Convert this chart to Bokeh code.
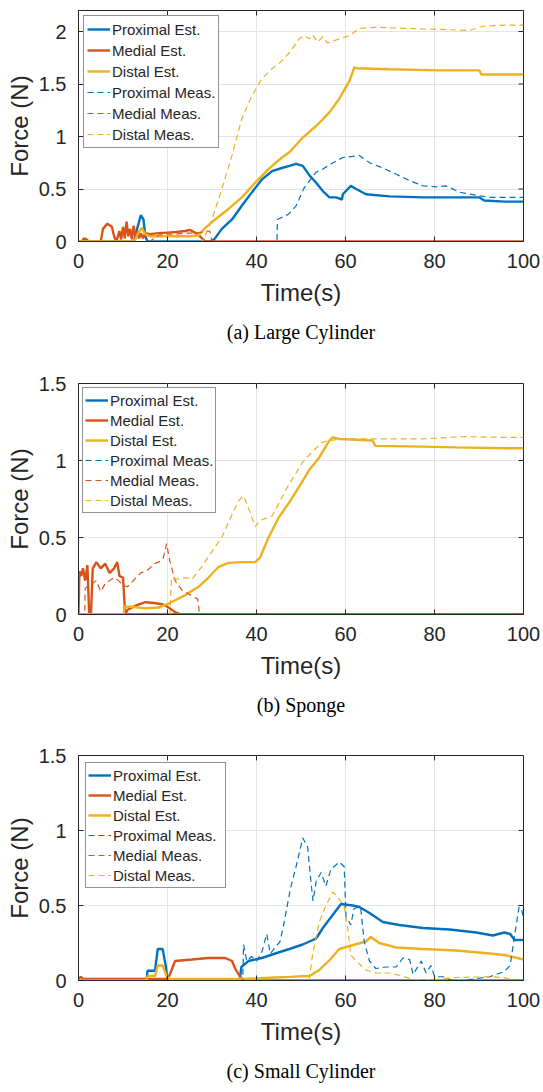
from bokeh.plotting import figure
from bokeh.layouts import column
from bokeh.models import Range1d, FixedTicker, Legend, LegendItem, Title
from bokeh.embed import file_html
from bokeh.resources import INLINE

# ---------------- data ----------------
labels = ["Proximal Est.", "Medial Est.", "Distal Est.",
          "Proximal Meas.", "Medial Meas.", "Distal Meas."]
x_ticks = [0, 20, 40, 60, 80, 100]
a_y_ticks = [0, 0.5, 1, 1.5, 2]
a_y_labels = ["0", "0.5", "1", "1.5", "2"]
bc_y_ticks = [0, 0.5, 1, 1.5]
bc_y_labels = ["0", "0.5", "1", "1.5"]
captions = ["(a) Large Cylinder", "(b) Sponge", "(c) Small Cylinder"]

# (a) Large Cylinder
a_t_prox_est = [0, 12.5, 13.1, 14.0, 14.6, 15.0, 15.5, 29.5, 30.5, 32.2, 34.5, 36.7, 39.0, 41.2, 43.5, 45.7, 47.4, 48.9, 50.4, 51.9,
                53.4, 54.9, 56.4, 57.9, 59.2, 59.4, 61.2, 62.0, 64.6, 69.9, 77.4, 84.1, 90.1, 91.2, 95.7, 100]
a_f_prox_est = [0, 0, 0.11, 0.25, 0.21, 0.05, 0, 0, 0.02, 0.12, 0.21, 0.34, 0.47, 0.59, 0.67, 0.70, 0.72, 0.74, 0.72, 0.63,
                0.56, 0.48, 0.42, 0.42, 0.40, 0.45, 0.53, 0.51, 0.45, 0.43, 0.42, 0.42, 0.42, 0.39, 0.38, 0.38]
a_t_med_est = [0, 0.8, 1.2, 1.8, 2.3, 5.0, 5.5, 6.5, 7.5, 8.0, 8.5, 9.2, 9.6, 10.0, 10.4, 10.8, 11.2, 11.6, 12.0, 12.4,
               12.8, 13.2, 13.6, 14.0, 14.5, 15.0, 16, 18, 20, 22, 24, 25, 26, 27, 28, 28.5, 100]
a_f_med_est = [0, 0, 0.03, 0.02, 0, 0, 0.12, 0.17, 0.14, 0.05, 0, 0.10, 0.02, 0.14, 0.03, 0.19, 0.05, 0.12, 0.02, 0.15,
               0.04, 0.10, 0.03, 0.08, 0.03, 0.08, 0.07, 0.08, 0.085, 0.09, 0.10, 0.11, 0.09, 0.06, 0.02, 0, 0]
a_t_dist_est = [0, 12.5, 13.2, 14.2, 15.0, 16.0, 20, 25, 27, 28.5, 30.7, 33.7, 36.7, 39.7, 42.7, 45.7, 47.4, 50.4, 53.4, 56.4,
                58.6, 60.9, 62.0, 62.4, 69.9, 81.1, 90.1, 90.5, 95.7, 100]
a_f_dist_est = [0, 0, 0.06, 0.13, 0.07, 0.05, 0.05, 0.05, 0.06, 0.13, 0.21, 0.31, 0.42, 0.56, 0.69, 0.80, 0.85, 0.99, 1.10, 1.23,
                1.36, 1.53, 1.66, 1.65, 1.64, 1.63, 1.63, 1.59, 1.59, 1.59]
a_t_prox_meas = [0, 44.6, 44.7, 47.2, 48.9, 50.7, 53.4, 54.9, 57.2, 59.4, 61.6, 63.1, 65.4, 68.4, 71.4, 74.4, 77.4, 80.4, 82.6, 85.6,
                 89.4, 92.4, 95.7, 100]
a_f_prox_meas = [0, 0, 0.21, 0.26, 0.34, 0.51, 0.66, 0.69, 0.75, 0.80, 0.81, 0.82, 0.75, 0.70, 0.64, 0.58, 0.53, 0.52, 0.53, 0.47,
                 0.44, 0.42, 0.42, 0.42]
a_t_med_meas = [0, 16, 18, 20, 22, 24, 26, 28, 29.5, 30, 100]
a_f_med_meas = [0, 0, 0.06, 0.07, 0.07, 0.08, 0.08, 0.09, 0.10, 0, 0]
a_t_dist_meas = [0, 27.5, 28.1, 30.0, 32.2, 34.5, 36.7, 39.0, 41.2, 43.5, 45.7, 47.4, 49.6, 50.7, 51.9, 52.6, 53.7, 54.9, 56.0, 58.6,
                 60.9, 63.1, 66.9, 73.6, 81.1, 87.9, 90.9, 95.7, 100]
a_f_dist_meas = [0, 0, 0.02, 0.21, 0.50, 0.82, 1.17, 1.39, 1.55, 1.645, 1.72, 1.80, 1.93, 1.96, 1.93, 1.97, 1.90, 1.95, 1.89, 1.93,
                 1.96, 2.03, 2.04, 2.03, 2.02, 2.01, 2.05, 2.06, 2.06]

# (b) Sponge
b_t_prox_est = [0, 100]
b_f_prox_est = [0, 0]
b_t_med_est = [0, 0.2, 0.6, 1.0, 1.5, 2.0, 2.4, 2.8, 3.2, 4.0, 5.0, 6.0, 7.0, 8.0, 8.7, 9.2, 10.0, 10.5, 11.0, 13.0,
               15.0, 17.0, 19.0, 20.0, 21.0, 22.0, 23.0, 100]
b_f_med_est = [0, 0.28, 0.25, 0.30, 0.22, 0.32, 0, 0, 0.30, 0.34, 0.30, 0.33, 0.27, 0.30, 0.34, 0.25, 0.24, 0, 0.03, 0.06,
               0.08, 0.075, 0.065, 0.05, 0.03, 0.01, 0, 0]
b_t_dist_est = [0, 10.2, 10.3, 12, 15, 18, 20.6, 24, 27, 29.2, 31.5, 33.7, 36.7, 39.7, 40.8, 42.7, 45, 47.4, 49.6, 51.9,
                54.1, 56.4, 57.1, 58.6, 66.1, 66.7, 77.4, 84.9, 95.7, 100]
b_f_dist_est = [0, 0, 0.05, 0.05, 0.04, 0.045, 0.076, 0.126, 0.18, 0.24, 0.31, 0.335, 0.34, 0.34, 0.37, 0.50, 0.63, 0.73, 0.83, 0.94,
                1.02, 1.13, 1.15, 1.14, 1.13, 1.095, 1.09, 1.085, 1.08, 1.08]
b_t_prox_meas = [0, 100]
b_f_prox_meas = [0, 0]
b_t_med_meas = [0, 1.4, 1.5, 3, 4, 5, 6, 7, 8, 9, 10, 11, 12, 13, 14, 15, 16, 17, 18, 19,
                19.8, 20.5, 21.7, 23.2, 25.5, 26.8, 27.2, 100]
b_f_med_meas = [0, 0, 0.17, 0.20, 0.22, 0.15, 0.20, 0.22, 0.24, 0.22, 0.19, 0.18, 0.21, 0.24, 0.27, 0.28, 0.30, 0.33, 0.34, 0.36,
                0.46, 0.35, 0.22, 0.16, 0.12, 0.10, 0, 0]
b_t_dist_meas = [0, 20.5, 20.9, 22, 24, 25.5, 27.7, 30, 32.2, 34.5, 36, 37.1, 38.2, 39.7, 40.8, 43.5, 45.7, 47.2, 50.4, 52.6,
                 54.9, 56.4, 59.4, 66.1, 77.4, 86.4, 95.7, 100]
b_f_dist_meas = [0, 0, 0.24, 0.23, 0.24, 0.23, 0.31, 0.41, 0.50, 0.65, 0.74, 0.77, 0.69, 0.57, 0.61, 0.64, 0.76, 0.84, 0.99, 1.06,
                 1.12, 1.13, 1.14, 1.14, 1.14, 1.155, 1.15, 1.15]

# (c) Small Cylinder
c_t_prox_est = [0, 15.3, 15.5, 17.2, 17.8, 18.9, 19.6, 20.0, 36.2, 36.6, 38.2, 41.2, 44.2, 47.4, 50.4, 53.4, 54.9, 57.2, 59.0, 61.6,
                63.1, 65.4, 68.4, 72.1, 77.4, 83.4, 89.4, 93.1, 95.7, 97.0, 98.0, 100]
c_f_prox_est = [0, 0, 0.065, 0.065, 0.21, 0.21, 0.10, 0, 0, 0.09, 0.13, 0.15, 0.18, 0.21, 0.24, 0.28, 0.35, 0.44, 0.51, 0.50,
                0.49, 0.45, 0.39, 0.37, 0.35, 0.34, 0.32, 0.30, 0.32, 0.31, 0.27, 0.27]
c_t_med_est = [0, 0.5, 1.0, 20.0, 20.6, 21.7, 25.5, 29.2, 33.0, 34.5, 35.2, 36.3, 37.0, 100]
c_f_med_est = [0.01, 0.025, 0.01, 0.01, 0.045, 0.13, 0.14, 0.15, 0.15, 0.13, 0.08, 0.025, 0, 0]
c_t_dist_est = [0, 15.3, 15.5, 17.2, 17.8, 18.9, 19.8, 20.5, 37.0, 44.2, 47.4, 51.9, 54.1, 56.4, 58.6, 60.9, 64.6, 65.7, 67.6, 71.4,
                77.4, 84.9, 92.4, 95.7, 100]
c_f_dist_est = [0, 0, 0.03, 0.03, 0.10, 0.10, 0.03, 0.01, 0.01, 0.02, 0.024, 0.03, 0.07, 0.135, 0.21, 0.23, 0.26, 0.29, 0.25, 0.22,
                0.21, 0.20, 0.18, 0.17, 0.14]
c_t_prox_meas = [0, 36.9, 37.1, 37.8, 38.9, 40.1, 41.2, 42.3, 43.1, 44.2, 45.3, 46.1, 46.8, 47.6, 48.9, 50.4, 51.5, 52.2, 52.7, 53.4,
                 54.5, 55.6, 56.7, 58.6, 59.7, 60.1, 61.2, 61.9, 63.4, 64.2, 65.4, 66.8, 69.1, 71.4, 72.9, 74.4, 75.2, 77.0, 78.1, 79.2,
                 80.0, 81.9, 84.1, 86.4, 92.4, 95.7, 97.0, 98.0, 99.0, 99.5, 100]
c_f_prox_meas = [0, 0, 0.24, 0.13, 0.16, 0.13, 0.19, 0.31, 0.18, 0.22, 0.26, 0.37, 0.48, 0.61, 0.76, 0.95, 0.89, 0.67, 0.53, 0.66,
                 0.72, 0.63, 0.74, 0.79, 0.76, 0.43, 0.37, 0.48, 0.49, 0.26, 0.13, 0.08, 0.09, 0.09, 0.15, 0.14, 0.04, 0.13, 0.05, 0.10,
                 0.025, 0.025, 0, 0, 0.025, 0.06, 0.10, 0.30, 0.49, 0.48, 0.42]
c_t_med_meas = [0, 100]
c_f_med_meas = [0, 0]
c_t_dist_meas = [0, 51.5, 51.9, 52.6, 54.1, 55.6, 57.2, 58.3, 59.7, 60.5, 61.2, 63.1, 64.6, 66.8, 69.9, 72.1, 74.4, 77.4, 84.9, 92.4,
                 95.4, 98.0, 100]
c_f_dist_meas = [0, 0, 0.02, 0.17, 0.39, 0.50, 0.59, 0.55, 0.50, 0.35, 0.17, 0.11, 0.07, 0.05, 0.05, 0.035, 0.015, 0, 0.02, 0.025,
                 0.02, 0, 0]

# ---------------- styling ----------------
INK = "#262626"
BLUE, ORANGE, YELLOW = "#0072BD", "#D95319", "#EDB120"
colors = [BLUE, ORANGE, YELLOW, BLUE, ORANGE, YELLOW]
SANS = "Liberation Sans"
SERIF = "Liberation Serif"
FRAME_W = 445          # px, plot frame width
FRAME_H = 231          # px, plot frame height
TICK = 5               # px, inward tick length


def style_axis(ax, ticks, label_standoff, overrides=None):
    ax.ticker = FixedTicker(ticks=ticks)
    ax.major_tick_in = TICK
    ax.major_tick_out = 0
    ax.minor_tick_line_color = None
    ax.axis_line_color = INK
    ax.major_tick_line_color = INK
    ax.major_label_text_color = INK
    ax.major_label_text_font = SANS
    ax.major_label_text_font_size = "20px"
    ax.major_label_standoff = 12
    ax.axis_label_text_font = SANS
    ax.axis_label_text_font_size = "24px"
    ax.axis_label_text_font_style = "normal"
    ax.axis_label_text_color = INK
    ax.axis_label_standoff = label_standoff
    if overrides:
        ax.major_label_overrides = overrides


def panel(series, ymax, yticks, ylabels, caption, h, bt, bb, lmargin, lpad, lspace, lwidth):
    p = figure(width=540, height=h, x_range=Range1d(0, 100), y_range=Range1d(0, ymax),
               output_backend="svg", toolbar_location=None,
               min_border_left=78, min_border_right=17, min_border_top=bt, min_border_bottom=bb)
    p.outline_line_color = INK
    p.outline_line_width = 1
    xax = p.xaxis[0]
    yax = p.yaxis[0]
    style_axis(xax, x_ticks, 8)
    style_axis(yax, yticks, 3, {t: l for t, l in zip(yticks, ylabels)})
    xax.axis_label = "Time(s)"
    yax.axis_label = "Force (N)"
    p.xgrid.ticker = FixedTicker(ticks=x_ticks)
    p.ygrid.ticker = FixedTicker(ticks=yticks)
    p.grid.grid_line_color = "#e4e4e4"
    p.grid.grid_line_width = 1

    # inward ticks on the top and right edges of the box (MATLAB "box on")
    dy = ymax * TICK / FRAME_H
    dx = 100 * TICK / FRAME_W
    p.segment(x0=x_ticks, y0=[ymax] * len(x_ticks), x1=x_ticks, y1=[ymax - dy] * len(x_ticks),
              line_color=INK, line_width=1)
    p.segment(x0=[100] * len(yticks), y0=yticks, x1=[100 - dx] * len(yticks), y1=yticks,
              line_color=INK, line_width=1)

    items = []
    for i, (t, f) in enumerate(series):
        if i < 3:
            r = p.line(t, f, line_color=colors[i], line_width=2.4)
        else:
            r = p.line(t, f, line_color=colors[i], line_width=1.2, line_dash="6 4")
        items.append(LegendItem(label=labels[i], renderers=[r]))
    leg = Legend(items=items, location="top_left", margin=lmargin, padding=lpad, spacing=lspace,
                 glyph_width=23, glyph_height=20, label_height=20, label_standoff=2, label_width=lwidth,
                 label_text_font=SANS, label_text_font_size="15px", label_text_color=INK,
                 border_line_color=INK, border_line_width=1, background_fill_color="white",
                 background_fill_alpha=1)
    p.add_layout(leg)
    p.add_layout(Title(text=caption, align="center", text_font=SERIF, text_font_size="20px",
                       text_font_style="normal", text_color="black", standoff=21, offset=-10), "below")
    return p


pa = panel([(a_t_prox_est, a_f_prox_est), (a_t_med_est, a_f_med_est), (a_t_dist_est, a_f_dist_est),
            (a_t_prox_meas, a_f_prox_meas), (a_t_med_meas, a_f_med_meas), (a_t_dist_meas, a_f_dist_meas)],
           2.2, a_y_ticks, a_y_labels, captions[0], 370, 10, 129, 5, 3, 1, 100)
pb = panel([(b_t_prox_est, b_f_prox_est), (b_t_med_est, b_f_med_est), (b_t_dist_est, b_f_dist_est),
            (b_t_prox_meas, b_f_prox_meas), (b_t_med_meas, b_f_med_meas), (b_t_dist_meas, b_f_dist_meas)],
           1.5, bc_y_ticks, bc_y_labels, captions[1], 372, 13, 128, 4, 2, 0, 100)
pc = panel([(c_t_prox_est, c_f_prox_est), (c_t_med_est, c_f_med_est), (c_t_dist_est, c_f_dist_est),
            (c_t_prox_meas, c_f_prox_meas), (c_t_med_meas, c_f_med_meas), (c_t_dist_meas, c_f_dist_meas)],
           1.5, bc_y_ticks, bc_y_labels, captions[2], 350, 13, 106, 7, 2, 0, 110)

layout = column(pa, pb, pc, spacing=0)
open("out.html", "w").write(file_html(layout, INLINE))
